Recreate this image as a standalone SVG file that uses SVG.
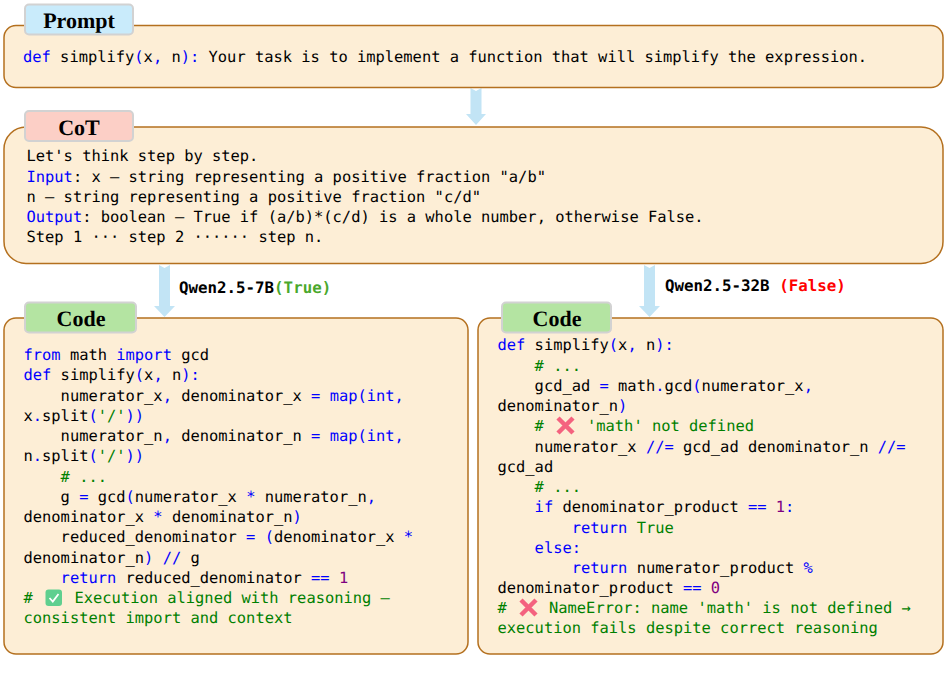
<svg xmlns="http://www.w3.org/2000/svg" width="946" height="679" viewBox="0 0 946 679">
<style>
text{text-rendering:geometricPrecision}
.box{fill:#fdeed6;stroke:#b4701f;stroke-width:1.5}
.tab{stroke:#d2d2d2;stroke-width:2}
.title{font-family:"Liberation Serif",serif;font-weight:bold;font-size:22px;text-anchor:middle;fill:#000}
.c{font-family:"DejaVu Sans Mono",monospace;font-size:15.41px;fill:#000;white-space:pre}
.b{fill:#0000ff}.g{fill:#008000}.p{fill:#800080}
.lab{font-family:"DejaVu Sans Mono",monospace;font-size:15.8px;font-weight:bold;fill:#000}
.arrow{fill:#c2e4f5}
</style>
<g id="connectors">
<path class="arrow" d="M470.500 88L476 91L481.500 88V114H486L476 125L466 114H470.500Z"/>
<path class="arrow" d="M159 265L164.500 268L170 265V306H175L164.500 317L154 306H159Z"/>
<path class="arrow" d="M644 265L649.500 268L655 265V306H660L649.500 317L639 306H644Z"/>
</g>
<g id="prompt">
<rect class="box" x="4" y="25.500" width="939" height="62" rx="12"/>
<rect class="tab" x="25" y="4.500" width="108" height="30" rx="4" fill="#c9ebfb"/>
<text class="title" x="79" y="28">Prompt</text>
<text class="c" x="23" y="62" xml:space="preserve"><tspan class="b">def</tspan> simplify<tspan class="b">(</tspan>x<tspan class="b">,</tspan> n<tspan class="b">):</tspan> Your task is to implement a function that will simplify the expression.</text>
</g>
<g id="cot">
<rect class="box" x="4" y="127" width="939" height="136.500" rx="22"/>
<rect class="tab" x="25" y="111" width="108" height="30" rx="4" fill="#fccfc6"/>
<text class="title" x="79" y="134.500">CoT</text>
<text class="c" x="26.500" y="161" xml:space="preserve">Let's think step by step.</text>
<text class="c" x="26.500" y="181.500" xml:space="preserve"><tspan class="b">Input</tspan>: x – string representing a positive fraction "a/b"</text>
<text class="c" x="26.500" y="202" xml:space="preserve">n – string representing a positive fraction "c/d"</text>
<text class="c" x="26.500" y="222" xml:space="preserve"><tspan class="b">Output</tspan>: boolean – True if (a/b)*(c/d) is a whole number, otherwise False.</text>
<text class="c" x="26.500" y="242" xml:space="preserve">Step 1 ··· step 2 ······ step n.</text>
</g>
<text class="lab" x="179" y="292.500" xml:space="preserve">Qwen2.5-7B<tspan fill="#4aa82c">(True)</tspan></text>
<text class="lab" x="665" y="290.500" xml:space="preserve">Qwen2.5-32B <tspan fill="#ff0000">(False)</tspan></text>
<g id="code-left">
<rect class="box" x="4" y="318" width="464" height="336" rx="12"/>
<rect class="tab" x="25" y="302.500" width="111" height="30" rx="4" fill="#b4e4a2"/>
<text class="title" x="81" y="326">Code</text>
<text class="c" x="23.500" y="360" xml:space="preserve"><tspan class="b">from</tspan> math <tspan class="b">import</tspan> gcd</text>
<text class="c" x="23.500" y="380" xml:space="preserve"><tspan class="b">def</tspan> simplify<tspan class="b">(</tspan>x<tspan class="b">,</tspan> n<tspan class="b">):</tspan></text>
<text class="c" x="23.500" y="400.500" xml:space="preserve">    numerator_x<tspan class="b">,</tspan> denominator_x <tspan class="b">=</tspan> <tspan class="b">map(int,</tspan></text>
<text class="c" x="23.500" y="420.500" xml:space="preserve">x<tspan class="b">.</tspan>split<tspan class="b">(</tspan><tspan class="g">'/'</tspan><tspan class="b">))</tspan></text>
<text class="c" x="23.500" y="441" xml:space="preserve">    numerator_n<tspan class="b">,</tspan> denominator_n <tspan class="b">=</tspan> <tspan class="b">map(int,</tspan></text>
<text class="c" x="23.500" y="461" xml:space="preserve">n<tspan class="b">.</tspan>split<tspan class="b">(</tspan><tspan class="g">'/'</tspan><tspan class="b">))</tspan></text>
<text class="c g" x="23.500" y="481.500" xml:space="preserve">    # ...</text>
<text class="c" x="23.500" y="501.500" xml:space="preserve">    g <tspan class="b">=</tspan> gcd<tspan class="b">(</tspan>numerator_x <tspan class="b">*</tspan> numerator_n<tspan class="b">,</tspan></text>
<text class="c" x="23.500" y="522" xml:space="preserve">denominator_x <tspan class="b">*</tspan> denominator_n<tspan class="b">)</tspan></text>
<text class="c" x="23.500" y="542" xml:space="preserve">    reduced_denominator <tspan class="b">=</tspan> <tspan class="b">(</tspan>denominator_x <tspan class="b">*</tspan></text>
<text class="c" x="23.500" y="562.500" xml:space="preserve">denominator_n<tspan class="b">)</tspan> <tspan class="b">//</tspan> g</text>
<text class="c" x="23.500" y="582.500" xml:space="preserve">    <tspan class="b">return</tspan> reduced_denominator <tspan class="b">==</tspan> <tspan class="p">1</tspan></text>
<text class="c g" x="23.500" y="603" xml:space="preserve">#</text>
<rect x="45.500" y="589.500" width="16.500" height="16.500" rx="3" fill="#5fcf8f"/>
<path d="M49.500 598L52.800 601.500L58.500 594" fill="none" stroke="#fff" stroke-width="1.800"/>
<text class="c g" x="74.500" y="603" xml:space="preserve">Execution aligned with reasoning –</text>
<text class="c g" x="23.500" y="623" xml:space="preserve">consistent import and context</text>
</g>
<g id="code-right">
<rect class="box" x="478" y="318" width="465" height="336" rx="12"/>
<rect class="tab" x="502" y="302.500" width="109" height="30" rx="4" fill="#b4e4a2"/>
<text class="title" x="557" y="326">Code</text>
<text class="c" x="497.500" y="350" xml:space="preserve"><tspan class="b">def</tspan> simplify<tspan class="b">(</tspan>x<tspan class="b">,</tspan> n<tspan class="b">):</tspan></text>
<text class="c g" x="497.500" y="370.500" xml:space="preserve">    # ...</text>
<text class="c" x="497.500" y="390.500" xml:space="preserve">    gcd_ad <tspan class="b">=</tspan> math<tspan class="b">.</tspan>gcd<tspan class="b">(</tspan>numerator_x<tspan class="b">,</tspan></text>
<text class="c" x="497.500" y="411" xml:space="preserve">denominator_n<tspan class="b">)</tspan></text>
<text class="c g" x="534.500" y="431" xml:space="preserve">#</text>
<path d="M558 418L573 433M573 418L558 433" stroke="#f4627f" stroke-width="4.500" fill="none"/>
<text class="c g" x="587" y="431" xml:space="preserve">'math' not defined</text>
<text class="c" x="497.500" y="451.500" xml:space="preserve">    numerator_x <tspan class="b">//=</tspan> gcd_ad denominator_n <tspan class="b">//=</tspan></text>
<text class="c" x="497.500" y="471.500" xml:space="preserve">gcd_ad</text>
<text class="c g" x="497.500" y="492" xml:space="preserve">    # ...</text>
<text class="c" x="497.500" y="512" xml:space="preserve">    <tspan class="b">if</tspan> denominator_product <tspan class="b">==</tspan> <tspan class="p">1</tspan><tspan class="b">:</tspan></text>
<text class="c" x="497.500" y="532.500" xml:space="preserve">        <tspan class="b">return</tspan> <tspan class="g">True</tspan></text>
<text class="c" x="497.500" y="552.500" xml:space="preserve">    <tspan class="b">else:</tspan></text>
<text class="c" x="497.500" y="573" xml:space="preserve">        <tspan class="b">return</tspan> numerator_product <tspan class="b">%</tspan></text>
<text class="c" x="497.500" y="593" xml:space="preserve">denominator_product <tspan class="b">==</tspan> <tspan class="p">0</tspan></text>
<text class="c g" x="497.500" y="613" xml:space="preserve">#</text>
<path d="M521 600L536 615M536 600L521 615" stroke="#f4627f" stroke-width="4.500" fill="none"/>
<text class="c g" x="549" y="613" xml:space="preserve">NameError: name 'math' is not defined →</text>
<text class="c g" x="497.500" y="633" xml:space="preserve">execution fails despite correct reasoning</text>
</g>
</svg>
